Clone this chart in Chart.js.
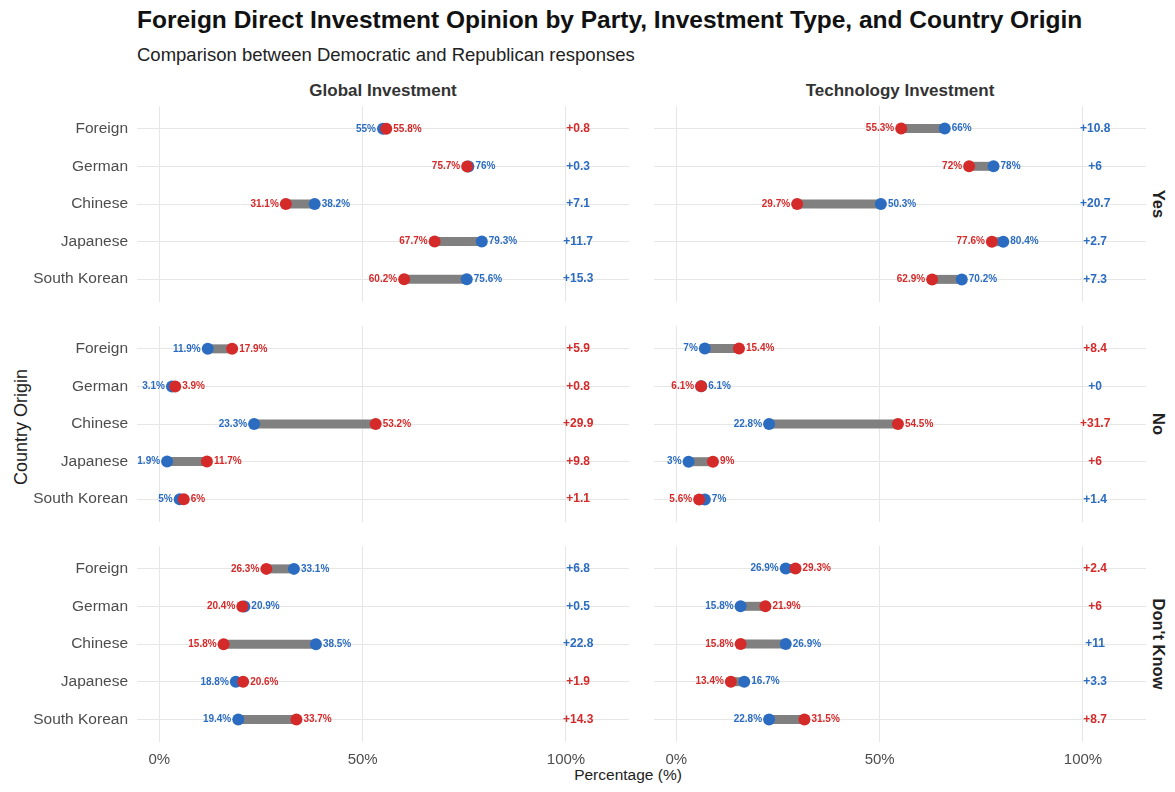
<!DOCTYPE html>
<html>
<head>
<meta charset="utf-8">
<script src="https://cdn.jsdelivr.net/npm/chart.js@4.4.1/dist/chart.umd.min.js"></script>
<style>
    body { margin: 0; width: 1175px; height: 792px; background: #fff; font-family: "Liberation Sans", Arial, sans-serif; position: relative; overflow: hidden; }
    canvas { position: absolute; }
    .txt { position: absolute; white-space: nowrap; }
    #title { left: 137px; top: 6px; font-size: 24.5px; font-weight: bold; color: #111; }
    #subtitle { left: 137px; top: 44px; font-size: 18.5px; color: #222; }
    .colhead { top: 81px; font-size: 17px; font-weight: bold; color: #333; transform: translateX(-50%); }
    .strip { font-size: 16.5px; font-weight: bold; color: #222; transform: translate(-50%, -50%) rotate(90deg); }
    #ytitle { left: 21px; top: 427px; font-size: 18px; color: #222; transform: translate(-50%, -50%) rotate(-90deg); }
    #xtitle { left: 628px; top: 766px; font-size: 15.5px; color: #222; transform: translateX(-50%); }
</style>
</head>
<body>
<div class="txt" id="title">Foreign Direct Investment Opinion by Party, Investment Type, and Country Origin</div>
<div class="txt" id="subtitle">Comparison between Democratic and Republican responses</div>
<div class="txt colhead" style="left:383px">Global Investment</div>
<div class="txt colhead" style="left:900px">Technology Investment</div>
<div class="txt strip" style="left:1158px; top:204px">Yes</div>
<div class="txt strip" style="left:1158px; top:424px">No</div>
<div class="txt strip" style="left:1158px; top:644px">Don't Know</div>
<div class="txt" id="ytitle">Country Origin</div>
<div class="txt" id="xtitle">Percentage (%)</div>

<canvas id="c-global-yes"></canvas>
<canvas id="c-tech-yes"></canvas>
<canvas id="c-global-no"></canvas>
<canvas id="c-tech-no"></canvas>
<canvas id="c-global-dk"></canvas>
<canvas id="c-tech-dk"></canvas>

<script>
const countries = ['Foreign', 'German', 'Chinese', 'Japanese', 'South Korean'];
const xTicks = [0, 50, 100];

// percentages per panel: Democrat, Republican, and the printed gap
const globalYesDem = [55, 76, 38.2, 79.3, 75.6];
const globalYesRep = [55.8, 75.7, 31.1, 67.7, 60.2];
const globalYesGap = [0.8, 0.3, 7.1, 11.7, 15.3];

const techYesDem = [66, 78, 50.3, 80.4, 70.2];
const techYesRep = [55.3, 72, 29.7, 77.6, 62.9];
const techYesGap = [10.8, 6, 20.7, 2.7, 7.3];

const globalNoDem = [11.9, 3.1, 23.3, 1.9, 5];
const globalNoRep = [17.9, 3.9, 53.2, 11.7, 6];
const globalNoGap = [5.9, 0.8, 29.9, 9.8, 1.1];

const techNoDem = [7, 6.1, 22.8, 3, 7];
const techNoRep = [15.4, 6.1, 54.5, 9, 5.6];
const techNoGap = [8.4, 0, 31.7, 6, 1.4];

const globalDkDem = [33.1, 20.9, 38.5, 18.8, 19.4];
const globalDkRep = [26.3, 20.4, 15.8, 20.6, 33.7];
const globalDkGap = [6.8, 0.5, 22.8, 1.9, 14.3];

const techDkDem = [26.9, 15.8, 26.9, 16.7, 22.8];
const techDkRep = [29.3, 21.9, 15.8, 13.4, 31.5];
const techDkGap = [2.4, 6, 11, 3.3, 8.7];

const DEM_COLOR = '#2b6cc0';
const REP_COLOR = '#d42a2a';
const GRID_COLOR = '#e6e6e6';
const GAP_X = 103;
const FONT = '"Liberation Sans", Arial, sans-serif';

// value labels next to the dots and the gap column on the right
const labelPlugin = {
    id: 'dumbbellLabels',
    afterDatasetsDraw(chart) {
        const { ctx, scales } = chart;
        const { dem, rep, gap } = chart.options.plugins.dumbbellLabels;
        ctx.save();
        ctx.textBaseline = 'middle';
        countries.forEach((c, i) => {
            const y = scales.y.getPixelForValue(i);
            const d = dem[i], r = rep[i];
            const demLeft = d < r;
            ctx.font = 'bold 10px ' + FONT;
            ctx.textAlign = 'right';
            ctx.fillStyle = demLeft ? DEM_COLOR : REP_COLOR;
            ctx.fillText((demLeft ? d : r) + '%', scales.x.getPixelForValue(Math.min(d, r)) - 7, y);
            ctx.textAlign = 'left';
            ctx.fillStyle = demLeft ? REP_COLOR : DEM_COLOR;
            ctx.fillText((demLeft ? r : d) + '%', scales.x.getPixelForValue(Math.max(d, r)) + 7, y);
            ctx.font = 'bold 12px ' + FONT;
            ctx.textAlign = 'center';
            ctx.fillStyle = d >= r ? DEM_COLOR : REP_COLOR;
            ctx.fillText('+' + gap[i], scales.x.getPixelForValue(GAP_X), y);
        });
        ctx.restore();
    }
};

function panelConfig(dem, rep, gap, isLeft, isBottom) {
    const segments = countries.map((c, i) => ({
        type: 'line',
        data: [{ x: dem[i], y: i }, { x: rep[i], y: i }],
        borderColor: '#808080',
        borderWidth: 9,
        borderCapStyle: 'butt',
        pointRadius: 0,
        showLine: true,
        order: 3,
        clip: false
    }));

    return {
        type: 'scatter',
        data: {
            datasets: [
                ...segments,
                {
                    label: 'Democrat',
                    data: dem.map((v, i) => ({ x: v, y: i })),
                    backgroundColor: DEM_COLOR,
                    borderWidth: 0,
                    pointRadius: 6,
                    order: 2,
                    clip: false
                },
                {
                    label: 'Republican',
                    data: rep.map((v, i) => ({ x: v, y: i })),
                    backgroundColor: REP_COLOR,
                    borderWidth: 0,
                    pointRadius: 6,
                    order: 1,
                    clip: false
                }
            ]
        },
        options: {
            responsive: false,
            maintainAspectRatio: false,
            animation: false,
            events: [],
            plugins: {
                legend: { display: false },
                tooltip: { enabled: false },
                dumbbellLabels: { dem, rep, gap }
            },
            scales: {
                x: {
                    type: 'linear',
                    min: -5.5,
                    max: 115.5,
                    afterBuildTicks: s => { s.ticks = xTicks.map(v => ({ value: v })); },
                    afterFit: s => { s.height = isBottom ? 30 : 0; },
                    border: { display: false },
                    grid: { color: GRID_COLOR, lineWidth: 1, drawTicks: false },
                    ticks: {
                        display: isBottom,
                        padding: 9,
                        color: '#4d4d4d',
                        font: { family: FONT, size: 15 },
                        callback: v => v + '%'
                    }
                },
                y: {
                    type: 'linear',
                    min: -0.6,
                    max: 4.6,
                    reverse: true,
                    afterBuildTicks: s => { s.ticks = countries.map((c, i) => ({ value: i })); },
                    afterFit: s => { s.width = isLeft ? 137 : 0; },
                    border: { display: false },
                    grid: { color: GRID_COLOR, lineWidth: 1, drawTicks: false },
                    ticks: {
                        display: isLeft,
                        padding: 9,
                        color: '#4d4d4d',
                        font: { family: FONT, size: 15.5 },
                        callback: v => countries[v]
                    }
                }
            }
        },
        plugins: [labelPlugin]
    };
}

function placeCanvas(canvas, left, top, width, height) {
    canvas.width = width;
    canvas.height = height;
    canvas.style.left = left + 'px';
    canvas.style.top = top + 'px';
    canvas.style.width = width + 'px';
    canvas.style.height = height + 'px';
}

// the plot area of each panel is fixed; the canvas is sized around it
function makePanel(id, dem, rep, gap, isLeft, isBottom, areaTop) {
    const area = { left: isLeft ? 137 : 654, right: isLeft ? 629 : 1146, top: areaTop, height: 196 };
    const canvas = document.getElementById(id);
    const areaW = area.right - area.left;

    placeCanvas(canvas, isLeft ? 0 : area.left, area.top, areaW + (isLeft ? 137 : 0) + 20, area.height + 60);
    const probe = new Chart(canvas, panelConfig(dem, rep, gap, isLeft, isBottom));
    const a = probe.chartArea;
    const padL = a.left, padT = a.top, padR = probe.width - a.right, padB = probe.height - a.bottom;
    probe.destroy();

    placeCanvas(canvas, area.left - padL, area.top - padT, areaW + padL + padR, area.height + padT + padB);
    return new Chart(canvas, panelConfig(dem, rep, gap, isLeft, isBottom));
}

makePanel('c-global-yes', globalYesDem, globalYesRep, globalYesGap, true, false, 106);
makePanel('c-tech-yes', techYesDem, techYesRep, techYesGap, false, false, 106);
makePanel('c-global-no', globalNoDem, globalNoRep, globalNoGap, true, false, 326);
makePanel('c-tech-no', techNoDem, techNoRep, techNoGap, false, false, 326);
makePanel('c-global-dk', globalDkDem, globalDkRep, globalDkGap, true, true, 546);
makePanel('c-tech-dk', techDkDem, techDkRep, techDkGap, false, true, 546);
</script>
</body>
</html>
